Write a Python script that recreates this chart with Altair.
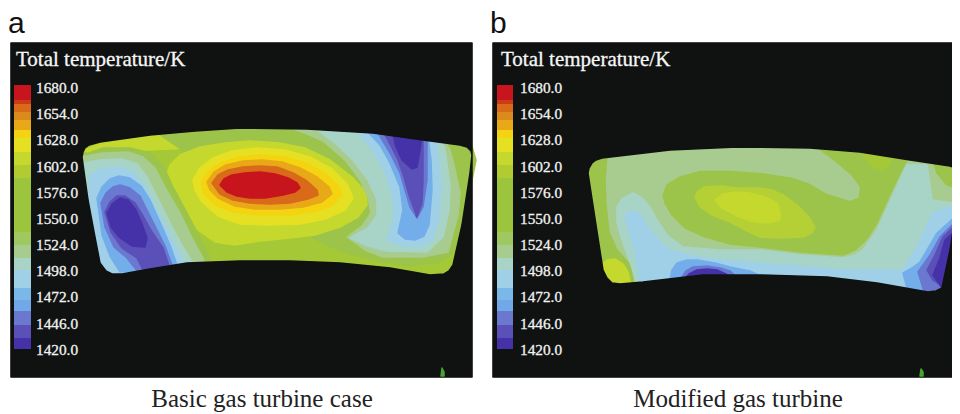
import altair as alt

# ---------- palette (colour of each temperature band) ----------
P0, P1, P2, P3, P4, P5, P6, P7 = "#4632a8", "#5a50b8", "#6a78d0", "#74aeea", "#a0d0e8", "#a8d4c8", "#a8cc90", "#9cc44a"
P8, P9, P10, P11, P12, P13, P15 = "#a4c836", "#c4d82e", "#e6e022", "#f4d410", "#e8a818", "#d86a1a", "#c8141c"
PANEL = "#0f1210"

# ---------- text ----------
TICKS = ["1680.0", "1654.0", "1628.0", "1602.0", "1576.0", "1550.0", "1524.0", "1498.0", "1472.0", "1446.0", "1420.0"]
TITLE = "Total temperature/K"
CAPTIONS = ["Basic gas turbine case", "Modified gas turbine"]
LETTERS = ["a", "b"]

# ---------- colour bar: band tops / bottoms and colours ----------
BAR_TOP = [85, 100, 104, 112, 120, 130, 138, 152, 165, 178, 232, 245, 258, 270, 288, 300, 311, 325, 338]
BAR_BOT = [100, 104, 112, 120, 130, 138, 152, 165, 178, 232, 245, 258, 270, 288, 300, 311, 325, 338, 349]
BAR_COL = [P15, "#cc3a1a", P13, "#dc8a1e", P12, P11, P10, P9, "#b0cc30", "#9cc43c", "#a0c860", P6, P5, P4, "#7ab8ea", "#70a8e8", P2, P1, P0]

# ---------- section outlines ----------
OUT_A = [(82,157),(83,152),(85,148),(89,145),(100,142),(150,135),(195,131),(240,128),(307,129),(373,133),(423,140),(460,145),(467,147),(471,151),(472,155),
         (470,173),(462,225),(453,265),(449,271),(444,274),(430,275),(390,268),(340,263),(290,261),(240,261),(187,263),(150,269),(122,274),(112,274),(106,271),(100,263),(94,232),(88,200)]
OUT_B = [(588,173),(589,168),(592,163),(596,160),(602,158),(670,150),(737,147),(810,148),(860,152),(910,160),(950,166),(960,170),(958,200),(950,250),(942,288),
         (936,291),(928,292),(877,283),(827,277),(760,275),(703,275),(643,282),(620,284),(612,283),(607,278),(603,270),(596,225)]

# ---------- iso-temperature bands, panel a (painted in this order) ----------
BANDS_A = [
 (P8, OUT_A),
 (P9, [(84,150),(110,140),(150,132),(190,128),(215,140),(190,148),(150,150),(120,150),(95,156)]),
 (P7, [(150,128),(240,124),(300,124),(470,140),(476,160),(458,250),(440,262),(410,266),(383,262),(350,254),(327,245),(312,237),(335,228),(352,215),(360,200),(352,183),(335,167),(310,153),(275,145),(240,143),(205,146),(185,152)]),
 (P9, [(165,180),(170,165),(180,155),(200,147),(225,143),(250,141),(280,143),(305,148),(330,160),(352,177),(366,192),(367,205),(358,217),(340,227),(315,235),(290,238),(260,241),(235,245),(215,242),(195,228),(175,205)]),
 (P10, [(193,180),(200,168),(213,158),(232,151),(257,148),(285,150),(310,157),(332,169),(347,184),(353,198),(345,210),(325,219),(300,224),(270,225),(240,224),(218,216),(202,202),(195,190)]),
 (P11, [(201,182),(208,171),(220,163),(238,157),(260,155),(285,157),(306,163),(325,173),(338,185),(342,195),(333,205),(315,212),(290,215),(258,215),(232,212),(214,204),(204,194)]),
 (P12, [(207,182),(214,172),(226,165),(243,161),(262,160),(282,162),(300,168),(317,177),(329,187),(332,194),(322,202),(303,207),(280,209),(255,209),(235,206),(218,198),(210,190)]),
 (P13, [(212,183),(218,175),(228,170),(243,167),(260,166),(277,167),(293,173),(307,181),(317,190),(318,195),(308,199),(290,203),(270,204),(250,203),(233,200),(220,194)]),
 (P15, [(220,185),(224,179),(232,175),(245,173),(260,172),(275,174),(288,178),(297,183),(300,188),(295,192),(283,195),(265,198),(250,198),(237,196),(227,192)]),
 # left cold lobe
 (P7, [(78,157),(103,148),(130,148),(150,153),(163,165),(172,185),(187,213),(200,238),(210,258),(214,272),(100,282),(76,200)]),
 (P6, [(80,157),(103,153),(128,152),(143,157),(155,168),(165,187),(180,213),(192,238),(203,258),(206,272),(100,282),(78,200)]),
 (P5, [(84,163),(100,160),(122,159),(137,164),(147,177),(157,197),(170,223),(183,247),(192,262),(194,272),(100,282),(82,200)]),
 (P4, [(90,175),(102,169),(118,167),(133,172),(145,187),(155,207),(168,232),(180,255),(187,272),(118,282),(100,268),(92,240),(88,205)]),
 (P3, [(97,198),(102,187),(110,179),(119,176),(130,178),(141,186),(150,200),(160,222),(170,245),(178,268),(120,272),(110,256),(102,235)]),
 (P2, [(101,203),(106,193),(113,187),(120,185),(130,188),(140,196),(147,210),(156,228),(165,246),(173,268),(138,272),(127,258),(114,247),(105,227)]),
 (P1, [(105,212),(110,202),(117,196),(125,196),(135,203),(143,216),(152,232),(163,248),(169,266),(143,270),(137,258),(122,248),(111,232)]),
 (P0, [(107,213),(112,204),(120,198),(128,200),(136,210),(142,224),(147,238),(145,247),(132,246),(120,238),(111,227)]),
 # right cold lobe
 (P6, [(287,127),(305,133),(323,141),(345,160),(360,180),(368,197),(371,213),(362,226),(347,237),(365,250),(383,257),(423,257),(448,252),(458,215),(460,193),(454,165),(450,150),(443,138)]),
 (P5, [(313,127),(335,143),(353,160),(368,180),(377,200),(377,215),(368,228),(350,238),(368,246),(387,251),(427,252),(443,237),(449,210),(450,185),(445,150),(440,136)]),
 (P4, [(357,131),(370,147),(383,167),(392,193),(394,215),(390,233),(387,240),(403,246),(420,247),(432,240),(438,222),(441,190),(439,160),(435,136)]),
 (P3, [(367,131),(380,145),(390,163),(400,187),(403,210),(398,233),(405,239),(415,240),(424,236),(429,225),(432,190),(431,160),(428,136)]),
 (P2, [(377,131),(390,153),(400,173),(405,190),(410,207),(417,218),(423,207),(427,180),(427,155),(427,136)]),
 (P1, [(383,131),(391,146),(398,160),(404,177),(409,195),(417,217),(422,203),(423,180),(423,155),(423,136)]),
 (P0, [(392,131),(396,147),(402,160),(412,169),(417,167),(420,150),(422,136)]),
]

# ---------- iso-temperature bands, panel b ----------
BANDS_B = [
 (P6, OUT_B),
 (P7, [(582,170),(600,152),(607,155),(605,180),(606,205),(609,232),(617,250),(628,262),(640,270),(645,292),(610,292),(598,270)]),
 (P9, [(600,265),(607,260),(615,259),(623,264),(628,272),(632,290),(608,290)]),
 (P7, [(720,140),(815,143),(910,155),(903,167),(892,190),(877,223),(866,240),(855,250),(843,255),(800,252),(760,247),(730,244),(705,237),(685,228),(672,215),(665,203),(663,195),(667,185),(680,177),(695,168)]),
 (P6, [(680,144),(810,144),(832,160),(850,175),(859,187),(858,197),(850,200),(827,193),(810,183),(793,177),(760,172),(730,170),(700,170),(682,175)]),
 (P7, [(933,160),(965,165),(965,190),(947,185),(937,173)]),
 (P8, [(860,150),(892,157),(890,165),(882,170),(873,167),(866,160)]),
 ("#b4d034", [(695,197),(698,191),(705,187),(720,186),(737,188),(760,188),(772,190),(785,196),(797,205),(808,216),(815,227),(812,233),(803,237),(780,238),(760,237),(745,230),(730,222),(712,215),(700,207)]),
 (P9, [(715,200),(723,194),(737,192),(750,193),(765,197),(777,203),(780,212),(780,220),(767,223),(750,221),(737,216),(722,208)]),
 (P5, [(617,207),(622,199),(633,193),(642,198),(650,207),(657,220),(667,235),(683,247),(720,250),(760,250),(800,255),(843,258),(855,255),(863,250),(870,240),(877,230),(892,197),(907,165),(927,165),(932,200),(965,205),(965,300),(640,300),(632,268),(622,240),(617,222)]),
 (P4, [(625,217),(630,211),(637,212),(644,220),(650,230),(660,242),(670,250),(703,258),(760,263),(843,270),(903,270),(918,245),(933,213),(965,202),(965,300),(650,300),(640,280),(635,250)]),
 (P3, [(670,280),(672,270),(677,263),(687,260),(697,260),(715,263),(730,267),(750,271),(770,280)]),
 (P3, [(903,273),(912,268),(920,262),(930,245),(937,233),(965,208),(965,300),(910,300)]),
 (P2, [(680,280),(686,271),(693,267),(707,266),(720,268),(730,271),(740,280)]),
 (P0, [(683,280),(689,274),(697,270),(707,269),(717,270),(726,274),(735,280)]),
 (P2, [(918,272),(930,255),(940,237),(965,212),(965,300),(925,295)]),
 (P1, [(927,270),(935,255),(943,237),(965,216),(965,300),(933,280)]),
 (P0, [(933,275),(940,258),(945,240),(965,222),(965,300),(942,288)]),
]

# ---------- panels: left, right, top, bottom ----------
PANEL_X0 = [11, 493]
PANEL_X1 = [472, 965]
PANEL_Y0 = [43, 43]
PANEL_Y1 = [377, 377]
SPECKS = [[(442,368),(444,372),(444,376),(441,376)], [(921,369),(923,372),(923,376),(920,376)]]


def area(ring):
    return sum(a[0] * b[1] - b[0] * a[1] for a, b in zip(ring, ring[1:] + ring[:1]))


def ring(points, positive=True):
    pts = list(points)
    if (area(pts) > 0) != positive:
        pts.reverse()
    return [list(p) for p in pts + pts[:1]]


def feature(rings, colour):
    return {"type": "Feature", "geometry": {"type": "Polygon", "coordinates": rings}, "properties": {"c": colour}}


features = []
for colour, pts in BANDS_A + BANDS_B:
    features.append(feature([ring(pts)], colour))
for i, outline in enumerate([OUT_A, OUT_B]):
    box = [(PANEL_X0[i], PANEL_Y0[i]), (PANEL_X1[i], PANEL_Y0[i]), (PANEL_X1[i], PANEL_Y1[i]), (PANEL_X0[i], PANEL_Y1[i])]
    features.append(feature([ring(box, True), ring(outline, False)], PANEL))
for s in SPECKS:
    features.append(feature([ring(s)], "#46a52c"))

W, H = 944, 406
X = alt.Scale(domain=[8, 8 + W], range=[0, W])
Y = alt.Scale(domain=[8, 8 + H], range=[0, H])


def xe(f="x"):
    return alt.X(f"{f}:Q", scale=X, axis=None)


def ye(f="y"):
    return alt.Y(f"{f}:Q", scale=Y, axis=None)


frames = alt.Chart(alt.Data(values=[
    {"x": PANEL_X0[i], "x2": PANEL_X1[i], "y": PANEL_Y0[i], "y2": PANEL_Y1[i]} for i in range(2)
])).mark_rect(fill=PANEL, stroke="#bdbdbd", strokeWidth=1.2, clip=True).encode(x=xe(), x2="x2:Q", y=ye(), y2="y2:Q")

shapes = alt.Chart(alt.Data(values=features)).mark_geoshape(strokeWidth=1.5, strokeJoin="round", clip=True).encode(
    fill=alt.Fill("properties.c:N", scale=None),
    stroke=alt.Stroke("properties.c:N", scale=None),
).project(type="identity", scale=1, translate=[-8, -8], reflectY=False)

BAR_X0 = [14, 497]
BAR_X1 = [31, 513]
bar_rows = [{"x": BAR_X0[p], "x2": BAR_X1[p], "y": t, "y2": b, "c": c}
            for p in range(2) for t, b, c in zip(BAR_TOP, BAR_BOT, BAR_COL)]
bars = alt.Chart(alt.Data(values=bar_rows)).mark_rect().encode(
    x=xe(), x2="x2:Q", y=ye(), y2="y2:Q", fill=alt.Fill("c:N", scale=None))

TICK_X = [36, 520]
tick_rows = [{"x": TICK_X[p], "y": 93 + i * 26.17, "t": t} for p in range(2) for i, t in enumerate(TICKS)]
ticks = alt.Chart(alt.Data(values=tick_rows)).mark_text(
    align="left", baseline="alphabetic", font="Liberation Serif", fontSize=15.3, color="#f2f2f2",
    stroke="#f2f2f2", strokeWidth=0.3
).encode(x=xe(), y=ye(), text="t:N")

titles = alt.Chart(alt.Data(values=[{"x": 16, "y": 66, "t": TITLE}, {"x": 501, "y": 66, "t": TITLE}])).mark_text(
    align="left", baseline="alphabetic", font="Liberation Serif", fontSize=21, color="#f6f6f6",
    stroke="#f6f6f6", strokeWidth=0.3
).encode(x=xe(), y=ye(), text="t:N")

caps = alt.Chart(alt.Data(values=[{"x": 262, "y": 407, "t": CAPTIONS[0]}, {"x": 738, "y": 407, "t": CAPTIONS[1]}])).mark_text(
    align="center", baseline="alphabetic", font="Liberation Serif", fontSize=25, color="#222222"
).encode(x=xe(), y=ye(), text="t:N")

letters = alt.Chart(alt.Data(values=[{"x": 8, "y": 33, "t": LETTERS[0]}, {"x": 490, "y": 33, "t": LETTERS[1]}])).mark_text(
    align="left", baseline="alphabetic", font="Liberation Sans", fontSize=30, color="#111111"
).encode(x=xe(), y=ye(), text="t:N")

chart = alt.layer(frames, shapes, bars, ticks, titles, caps, letters).properties(
    width=W, height=H, padding=0, autosize=alt.AutoSizeParams(type="none"), background="white"
).configure_view(stroke=None)

chart.save("out.html", embed_options={"renderer": "svg", "actions": False})
